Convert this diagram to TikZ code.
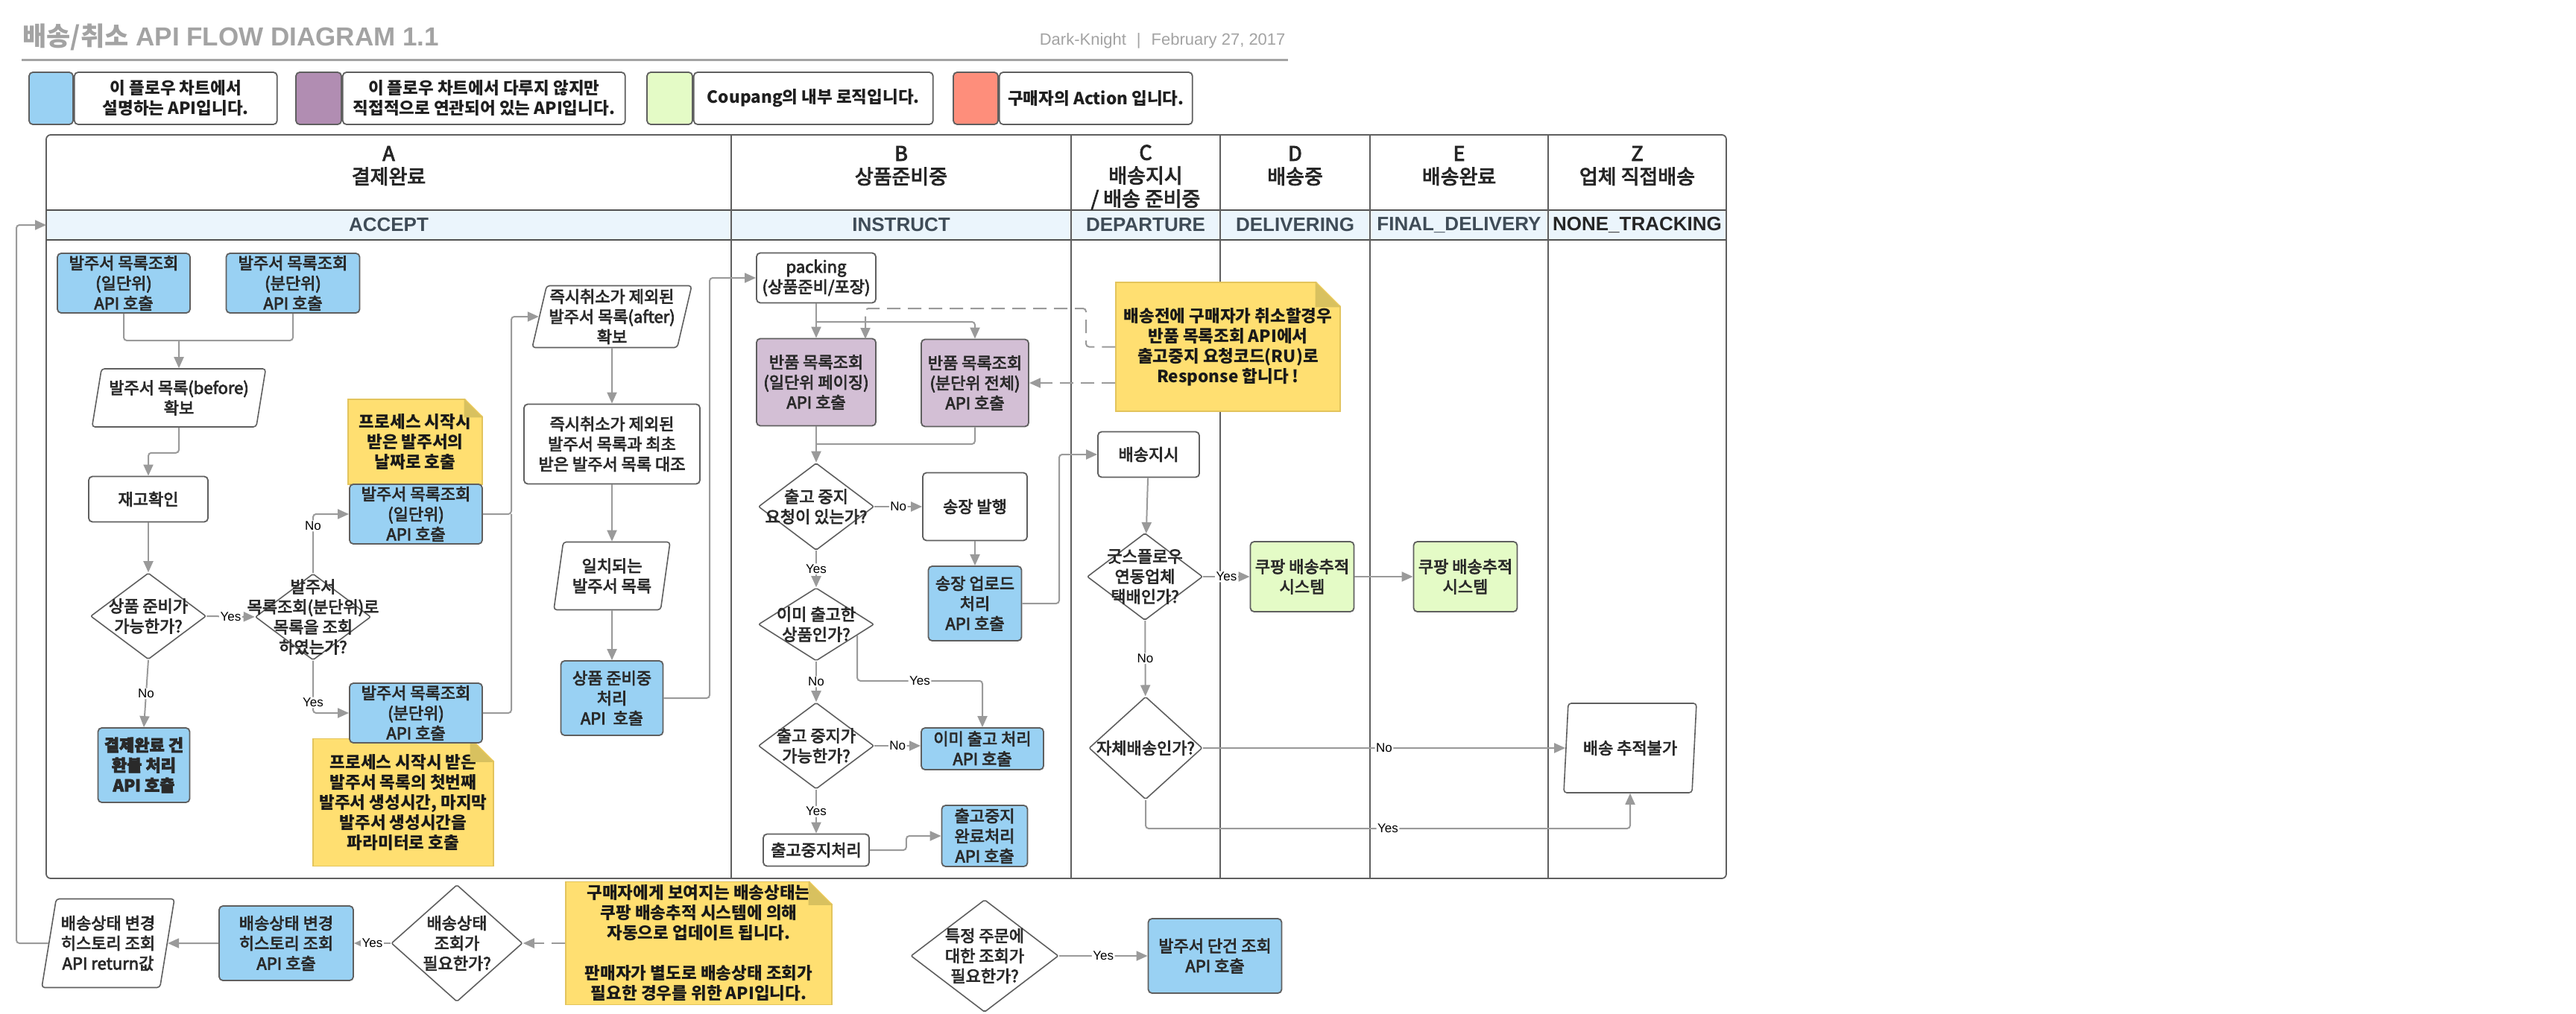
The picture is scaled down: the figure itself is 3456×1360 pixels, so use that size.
\documentclass[tikz,border=0pt]{standalone}
\usepackage{fontspec}
\setmainfont{Noto Sans CJK KR}
\newfontfamily\medfont{Noto Sans CJK KR}[FakeBold=3.5]
\newfontfamily\latinfont{Liberation Sans}
\usetikzlibrary{shapes.geometric,arrows.meta,positioning,calc}

\definecolor{apiblue}{HTML}{99D1F3}
\definecolor{extpurple}{HTML}{D3BFD5}
\definecolor{legpurple}{HTML}{B18DB2}
\definecolor{logicgreen}{HTML}{E4FBC6}
\definecolor{buyerred}{HTML}{FE8E7B}
\definecolor{noteyellow}{HTML}{FFDF71}
\definecolor{notefold}{HTML}{D8C15F}
\definecolor{noteedge}{HTML}{E3C45C}
\definecolor{bandblue}{HTML}{EBF5FC}
\definecolor{bandink}{HTML}{3F4C57}
\definecolor{edgegray}{HTML}{5F5F5F}
\definecolor{linkgray}{HTML}{9A9A9A}
\definecolor{titlegray}{HTML}{A3A3A3}
\definecolor{inkgray}{HTML}{2A2A2A}

\newcommand\nodefont{\medfont\fontsize{22}{27}\selectfont}
\newcommand\notefont{\fontsize{22.5}{27}\selectfont\bfseries}
\newcommand\legfont{\fontsize{22.5}{27}\selectfont\bfseries}
\newcommand\headfont{\medfont\fontsize{27}{31}\selectfont}
\newcommand\bandfont{\latinfont\bfseries\fontsize{26}{30}\selectfont}
\newcommand\ynfont{\latinfont\fontsize{17}{19}\selectfont}
\newcommand\titlefont{\fontsize{35}{40}\selectfont\bfseries}
\newcommand\dogear[2]{%
  \fill[white] (#1.north east) ++(-#2,-2) -- ++(#2+3,0) -- ++(0,#2+3) -- cycle;
  \fill[notefold] (#1.north east) ++(-#2,0) -- ++(#2,#2) -- ++(-#2,0) -- cycle;
  \draw[noteedge, line width=1.2pt] (#1.north east) ++(-#2,0) -- ++(#2,#2);}

\begin{document}
\begin{tikzpicture}[x=1pt, y=-1pt,
  box/.style={draw=edgegray, line width=1.8pt, rounded corners=5pt, align=center, text=inkgray, font=\nodefont, inner sep=2pt},
  sz/.style 2 args={minimum width=#1, minimum height=#2},
  api/.style={box, fill=apiblue},
  ext/.style={box, fill=extpurple},
  logic/.style={box, fill=logicgreen},
  plain/.style={box, fill=white},
  dia/.style={diamond, draw=edgegray, line width=1.6pt, fill=white, inner sep=0pt, rounded corners=2pt},
  qtext/.style={align=center, text=inkgray, font=\nodefont, inner sep=0pt},
  para/.style={trapezium, trapezium left angle=76, trapezium right angle=104, trapezium stretches body, draw=edgegray, line width=1.6pt, fill=white, align=center, text=inkgray, font=\nodefont, rounded corners=4pt, inner sep=2pt},
  note/.style={fill=noteyellow, draw=noteedge, line width=1.2pt, align=center, text=black!90, font=\notefont, inner sep=0pt},
  legtext/.style={box, fill=white, font=\legfont, text=black!88},
  head/.style={align=center, font=\headfont, text=black!85},
  band/.style={font=\bandfont, text=bandink},
  link/.style={draw=linkgray, line width=2pt, rounded corners=4pt},
  conn/.style={link, -{Triangle[length=15pt, width=13pt]}},
  dashes/.style={dash pattern=on 18pt off 10pt},
  yn/.style={fill=white, inner sep=1.5pt, font=\ynfont, text=black}]

  \useasboundingbox (0,0) rectangle (3456,1360);
  \fill[white] (0,0) rectangle (3456,1360);

  \node[anchor=west, font=\titlefont, text=titlegray] (title) at (27,50) {배송/취소{\latinfont\bfseries\ API FLOW DIAGRAM 1.1}};
  \node[anchor=east, font=\latinfont\fontsize{22}{26}\selectfont, text=titlegray] (byline) at (1728,55) {Dark-Knight\hspace{14pt}|\hspace{14pt}February 27, 2017};
  \draw[titlegray, line width=3pt] (29,80) -- (1728,80);

  \node[box, fill=apiblue, sz={59}{70}] (l1c) at (68.5,132) {};
  \node[legtext, sz={272}{70}, right=0pt of l1c] (l1t) {이 플로우 차트에서\\설명하는 API입니다.};
  \node[box, fill=legpurple, sz={61}{70}] (l2c) at (427.5,132) {};
  \node[legtext, sz={379}{70}, right=0pt of l2c] (l2t) {이 플로우 차트에서 다루지 않지만\\직접적으로 연관되어 있는 API입니다.};
  \node[box, fill=logicgreen, sz={61}{70}] (l3c) at (898.5,132) {};
  \node[legtext, sz={321}{70}, right=0pt of l3c] (l3t) {Coupang의 내부 로직입니다.};
  \node[box, fill=buyerred, sz={60}{70}] (l4c) at (1309,132) {};
  \node[legtext, sz={259}{70}, right=0pt of l4c] (l4t) {구매자의 Action 입니다.};

  \fill[bandblue] (63,283) rectangle (2315,321);
  \draw[edgegray, line width=1.8pt, rounded corners=6pt] (62,181) rectangle (2316,1179);
  \draw[edgegray!85!black, line width=2.6pt] (62,282) -- (2316,282) (62,322) -- (2316,322);
  \foreach \x in {981,1437,1637,1838,2077}
    \draw[edgegray, line width=1.5pt] (\x,181) -- (\x,1179);

  \node[head] (hA) at (521.5,222.5) {A\\결제완료};
  \node[head] (hB) at (1209,222.5) {B\\상품준비중};
  \node[head] (hC) at (1537,238) {C\\배송지시\\/ 배송 준비중};
  \node[head] (hD) at (1737.5,222.5) {D\\배송중};
  \node[head] (hE) at (1957.5,222.5) {E\\배송완료};
  \node[head] (hZ) at (2196.5,222.5) {Z\\업체 직접배송};
  \node[band] (sA) at (521.5,302) {ACCEPT};
  \node[band] (sB) at (1209,302) {INSTRUCT};
  \node[band] (sC) at (1537,302) {DEPARTURE};
  \node[band] (sD) at (1737.5,302) {DELIVERING};
  \node[band] (sE) at (1957.5,302) {FINAL\_DELIVERY};
  \node[band, text=black!85] (sZ) at (2196.5,302) {NONE\_TRACKING};

  \node[api, sz={178}{80}] (a1) at (166,380) {발주서 목록조회\\(일단위)\\API 호출};
  \node[api, sz={179}{80}] (a2) at (393,380) {발주서 목록조회\\(분단위)\\API 호출};
  \node[para, sz={233}{78}] (a3) at (240,534) {발주서 목록(before)\\확보};
  \node[plain, sz={160}{61}] (a4) at (199,670) {재고확인};
  \node[dia, sz={155}{116}, label={[qtext]center:{상품 준비가\\가능한가?}}] (d1) at (199,827) {};
  \node[dia, sz={155}{116}, label={[qtext]center:{발주서\\목록조회(분단위)로\\목록을 조회\\하였는가?}}] (d2) at (420,828) {};
  \node[note, sz={180}{114}] (note1) at (557,593) {프로세스 시작시\\받은 발주서의\\날짜로 호출};
  \dogear{note1}{25}
  \node[note, sz={242}{171}] (note2) at (541,1077) {프로세스 시작시 받은\\발주서 목록의 첫번째\\발주서 생성시간, 마지막\\발주서 생성시간을\\파라미터로 호출};
  \dogear{note2}{32}
  \node[api, sz={178}{80}] (a5) at (558,690) {발주서 목록조회\\(일단위)\\API 호출};
  \node[api, sz={178}{80}] (a6) at (558,957) {발주서 목록조회\\(분단위)\\API 호출};
  \node[api, sz={123}{100}, font=\nodefont\bfseries] (a7) at (193,1027) {결제완료 건\\환불 처리\\API 호출};
  \node[para, sz={214}{83}] (a8) at (821,425) {즉시취소가 제외된\\발주서 목록(after)\\확보};
  \node[plain, sz={236}{107}] (a9) at (821,596) {즉시취소가 제외된\\발주서 목록과 최초\\받은 발주서 목록 대조};
  \node[para, sz={156}{91}] (a10) at (821,773) {일치되는\\발주서 목록};
  \node[api, sz={137}{100}] (a11) at (821,937) {상품 준비중\\처리\\API\ \ 호출};

  \node[plain, sz={160}{67}] (b1) at (1095,373) {packing\\(상품준비/포장)};
  \node[ext, sz={160}{117}] (b2) at (1095,513) {반품 목록조회\\(일단위 페이징)\\API 호출};
  \node[ext, sz={144}{117}] (b3) at (1308,514) {반품 목록조회\\(분단위 전체)\\API 호출};
  \node[note, sz={301}{173}] (note3) at (1647.5,465.5) {배송전에 구매자가 취소할경우\\반품 목록조회 API에서\\출고중지 요청코드(RU)로\\Response 합니다 !};
  \dogear{note3}{34}
  \node[dia, sz={155}{117}, label={[qtext]center:{출고 중지\\요청이 있는가?}}] (d3) at (1095,680) {};
  \node[plain, sz={140}{91}] (b4) at (1308,680) {송장 발행};
  \node[api, sz={125}{100}] (b5) at (1308,810) {송장 업로드\\처리\\API 호출};
  \node[dia, sz={155}{98}, label={[qtext]center:{이미 출고한\\상품인가?}}] (d4) at (1095,838) {};
  \node[api, sz={164}{56}] (b6) at (1318,1005) {이미 출고 처리\\API 호출};
  \node[dia, sz={155}{116}, label={[qtext]center:{출고 중지가\\가능한가?}}] (d5) at (1095,1001) {};
  \node[plain, sz={142}{43}] (b7) at (1095,1141) {출고중지처리};
  \node[api, sz={115}{82}] (b8) at (1321,1122) {출고중지\\완료처리\\API 호출};

  \node[plain, sz={136}{61}] (c1) at (1541,610) {배송지시};
  \node[dia, sz={155}{117}, label={[qtext]center:{굿스플로우\\연동업체\\택배인가?}}] (d6) at (1536,774) {};
  \node[logic, sz={139}{94}] (c2) at (1747,774) {쿠팡 배송추적\\시스템};
  \node[logic, sz={139}{94}] (c3) at (1966,774) {쿠팡 배송추적\\시스템};
  \node[dia, sz={152}{138}, label={[qtext]center:{자체배송인가?}}] (d7) at (1537,1004) {};
  \node[para, sz={178}{120}] (c4) at (2187,1004) {배송 추적불가};

  \node[para, sz={178}{119}] (e1) at (145,1266) {배송상태 변경\\히스토리 조회\\API return값};
  \node[api, sz={180}{100}] (e2) at (384,1266) {배송상태 변경\\히스토리 조회\\API 호출};
  \node[dia, sz={176}{157}, label={[qtext]center:{배송상태\\조회가\\필요한가?}}] (d8) at (613,1266) {};
  \node[note, sz={357}{165}] (note4) at (937.5,1266) {구매자에게 보여지는 배송상태는\\쿠팡 배송추적 시스템에 의해\\자동으로 업데이트 됩니다.\\[27pt]판매자가 별도로 배송상태 조회가\\필요한 경우를 위한 API입니다.};
  \dogear{note4}{32}
  \node[dia, sz={198}{151}, label={[qtext]center:{특정 주문에\\대한 조회가\\필요한가?}}] (d9) at (1321,1283) {};
  \node[api, sz={179}{100}] (e3) at (1630,1283) {발주서 단건 조회\\API 호출};

  \coordinate (j1) at (240,457);
  \draw[link] (a1.south) |- (j1);
  \draw[link] (a2.south) |- (j1);
  \draw[conn] (j1) -- (a3.north);
  \draw[conn] (a3.south) -- ++(0,34) -| (a4.north);
  \draw[conn] (a4) -- (d1);
  \draw[conn] (d1.east) -- node[yn]{Yes} (d2.west);
  \draw[conn] (d2.north) |- node[yn, pos=0.4]{No} (a5.west);
  \draw[conn] (d2.south) |- node[yn, pos=0.4]{Yes} (a6.west);
  \draw[conn] (d1.south) -- node[yn]{No} (a7.north);
  \coordinate (j2) at (686,690);
  \draw[link] (a6.east) -| (j2);
  \draw[conn] (a5.east) -- (j2) |- (a8.west);
  \draw[conn] (a8) -- (a9);
  \draw[conn] (a9) -- (a10);
  \draw[conn] (a10) -- (a11);
  \coordinate (j3) at (952,373);
  \draw[conn] (a11.east) -| (j3) -- (b1.west);

  \coordinate (j4) at (1095,432);
  \draw[conn] (b1) -- (b2);
  \draw[conn] (j4) -| (b3.north);
  \coordinate (k1) at (1457,414);
  \coordinate (k2) at (1161,455);
  \draw[conn, dashes] (note3.west) -| (k1) -| (k2);
  \draw[conn, dashes] (note3.west |- b3.east) -- (b3.east);
  \coordinate (j5) at (1095,596);
  \draw[link] (b3.south) |- (j5);
  \draw[conn] (b2) -- (d3);
  \draw[conn] (d3.east) -- node[yn]{No} (b4.west);
  \draw[conn] (b4) -- (b5);
  \coordinate (j6) at (1421,610);
  \draw[conn] (b5.east) -| (j6) -- (c1.west);
  \draw[conn] (d3) -- node[yn]{Yes} (d4);
  \draw[conn] (d4.-15) -- ++(0,61) -| node[yn, pos=0.25]{Yes} (b6.north);
  \draw[conn] (d4) -- node[yn]{No} (d5);
  \draw[conn] (d5.east) -- node[yn]{No} (d5.east -| b6.west);
  \draw[conn] (d5) -- node[yn]{Yes} (b7);
  \draw[conn] (b7.east) -- ++(49,0) |- (b8.west);

  \draw[conn] (c1) -- (d6);
  \draw[conn] (d6.east) -- node[yn]{Yes} (c2.west);
  \draw[conn] (c2) -- (c3);
  \draw[conn] (d6) -- node[yn]{No} (d7);
  \draw[conn] (d7.east) -- node[yn]{No} (c4.west);
  \coordinate (j7) at (2187,1112);
  \draw[conn] (d7.south) |- node[yn, pos=0.75]{Yes} (j7) -- (c4.south);

  \draw[conn] (d8.west) -- node[yn]{Yes} (e2.east);
  \draw[conn] (e2.west) -- (e1.east);
  \coordinate (j8) at (22,302);
  \coordinate (acc) at (62,302);
  \draw[conn] (e1.west) -| (j8) -- (acc);
  \draw[conn, dashes] (note4.west) -- (d8.east);
  \draw[conn] (d9.east) -- node[yn]{Yes} (e3.west);
\end{tikzpicture}
\end{document}
